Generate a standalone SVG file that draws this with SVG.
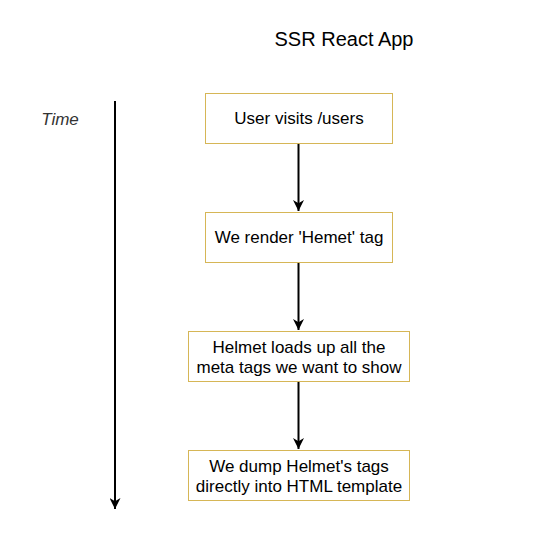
<svg xmlns="http://www.w3.org/2000/svg" width="558" height="560" viewBox="0 0 558 560">
<style>
.box{fill:#ffffff;stroke:#d6b656;stroke-width:1}
.t{font-family:"Liberation Sans",Arial,sans-serif;font-size:17px;fill:#000000;text-anchor:middle}
.edge{stroke:#000000;stroke-width:2;fill:none}
</style>
<defs>
<marker id="ah" viewBox="0 0 10 10" refX="10" refY="5" markerWidth="5.5" markerHeight="5.5" orient="auto" markerUnits="strokeWidth">
<path d="M0,0 L10,5 L0,10 L3,5 Z" fill="#000000"/>
</marker>
</defs>
<rect width="558" height="560" fill="#ffffff"/>
<text x="344" y="46" class="t" style="font-size:20px">SSR React App</text>
<text x="60" y="125" class="t" style="font-style:italic;fill:#333333">Time</text>
<g id="connectors">
<line class="edge" x1="115" y1="101" x2="115" y2="509" marker-end="url(#ah)"/>
<line class="edge" x1="298.5" y1="143" x2="298.5" y2="211" marker-end="url(#ah)"/>
<line class="edge" x1="298.5" y1="263" x2="298.5" y2="330" marker-end="url(#ah)"/>
<line class="edge" x1="298.5" y1="382" x2="298.5" y2="449" marker-end="url(#ah)"/>
</g>
<g id="n1">
<rect class="box" x="205.5" y="93.5" width="187" height="50"/>
<text x="299" y="124" class="t">User visits /users</text>
</g>
<g id="n2">
<rect class="box" x="205.5" y="212.5" width="187" height="50"/>
<text x="299" y="243" class="t">We render 'Hemet' tag</text>
</g>
<g id="n3">
<rect class="box" x="188.5" y="331.5" width="221" height="50"/>
<text x="299" y="353" class="t">Helmet loads up all the</text>
<text x="299" y="373" class="t">meta tags we want to show</text>
</g>
<g id="n4">
<rect class="box" x="188.5" y="450.5" width="221" height="50"/>
<text x="299" y="472" class="t">We dump Helmet's tags</text>
<text x="299" y="492" class="t">directly into HTML template</text>
</g>
</svg>
